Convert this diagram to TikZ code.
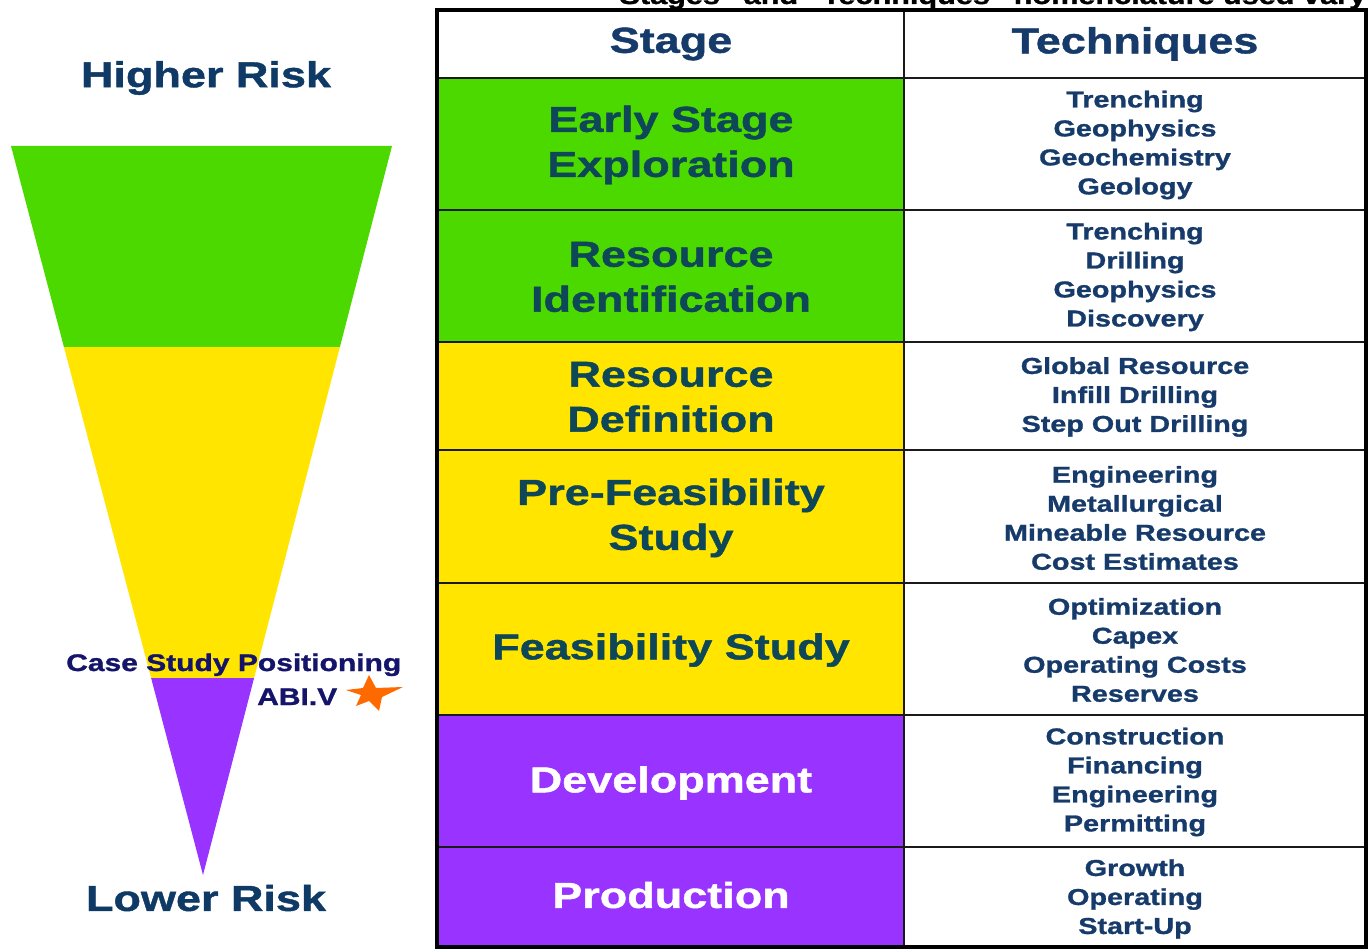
\documentclass[tikz,border=0pt]{standalone}
\usepackage{fontspec}
\newfontfamily\widefont{Liberation Sans}[FakeStretch=1.25, BoldFeatures={FakeBold=1.2}]
\usetikzlibrary{shapes.geometric}

\definecolor{stgreen}{HTML}{4CD900}
\definecolor{styellow}{HTML}{FFE500}
\definecolor{stpurple}{HTML}{9933FF}
\definecolor{stagetxt}{HTML}{0E4757}
\definecolor{techtxt}{HTML}{163B6B}
\definecolor{risktxt}{HTML}{103A66}
\definecolor{casetxt}{HTML}{14146B}
\definecolor{starorange}{HTML}{FF6A00}
\definecolor{gridline}{HTML}{1A1A1A}

\begin{document}
\begin{tikzpicture}[x=1pt,y=-1pt,
  bigfont/.style={font=\widefont\bfseries\fontsize{36}{45}\selectfont},
  stagelbl/.style={bigfont, align=center, text=stagetxt, inner sep=0pt},
  headlbl/.style={bigfont, align=center, text=techtxt, inner sep=0pt},
  techlbl/.style={font=\widefont\bfseries\fontsize{23}{29}\selectfont, align=center, text=techtxt, inner sep=0pt},
  risklbl/.style={bigfont, text=risktxt, inner sep=0pt},
  caselbl/.style={font=\widefont\bfseries\fontsize{24}{28}\selectfont, text=casetxt, inner sep=0pt, anchor=base west},
  rowline/.style={gridline, line width=2.5pt},
]
\useasboundingbox[fill=white] (0,0) rectangle (1368,949);

% ---- risk funnel ----
\coordinate (ftl) at (11,146);
\coordinate (ftr) at (392,146);
\coordinate (ftip) at (203,875);
\begin{scope}
  \clip (ftl) -- (ftr) -- (ftip) -- cycle;
  \fill[stgreen]  (0,140) rectangle (400,347);
  \fill[styellow] (0,347) rectangle (400,678);
  \fill[stpurple] (0,678) rectangle (400,880);
\end{scope}

\node[risklbl] (higher) at (206,78) {Higher Risk};
\node[risklbl] (lower)  at (206,898) {Lower Risk};

\node[caselbl] (casepos) at (66,671) {Case Study Positioning};
\node[caselbl] (abiv)    at (257,705) {ABI.V};

% orange star marker
\fill[starorange] (369,675) -- (376,688) -- (403,687) -- (382,697) -- (379,711)
  -- (369,701) -- (356,706) -- (361,695) -- (346,690) -- (363,688) -- cycle;

% ---- stage table ----
\fill[stgreen]  (437,78)  rectangle (904,342);
\fill[styellow] (437,342) rectangle (904,715);
\fill[stpurple] (437,715) rectangle (904,947);

\foreach \yy in {78,210,342,450,583,715,847}
  \draw[rowline] (437,\yy) -- (1366,\yy);
\draw[rowline] (904,10) -- (904,947);
\draw[black, line width=4pt] (437,10) rectangle (1366,947);

% caption line running past the top edge of the page
\node[font=\widefont\bfseries\fontsize{24.5}{28}\selectfont, anchor=base west, inner sep=0pt] (caption) at (604,4)
  {“Stages” and “Techniques” nomenclature used vary};

\node[headlbl] (hstage) at (671,44) {Stage};
\node[headlbl] (htech)  at (1135,44) {Techniques};

\node[stagelbl] (s1) at (671,145) {Early Stage\\Exploration};
\node[stagelbl] (s2) at (671,277) {Resource\\Identification};
\node[stagelbl] (s3) at (671,397) {Resource\\Definition};
\node[stagelbl] (s4) at (671,518) {Pre-Feasibility\\Study};
\node[stagelbl] (s5) at (671,650) {Feasibility Study};
\node[stagelbl, text=white] (s6) at (671,783) {Development};
\node[stagelbl, text=white] (s7) at (671,895) {Production};

\node[techlbl] (t1) at (1135,145) {Trenching\\Geophysics\\Geochemistry\\Geology};
\node[techlbl] (t2) at (1135,277) {Trenching\\Drilling\\Geophysics\\Discovery};
\node[techlbl] (t3) at (1135,397) {Global Resource\\Infill Drilling\\Step Out Drilling};
\node[techlbl] (t4) at (1135,518) {Engineering\\Metallurgical\\Mineable Resource\\Cost Estimates};
\node[techlbl] (t5) at (1135,650) {Optimization\\Capex\\Operating Costs\\Reserves};
\node[techlbl] (t6) at (1135,782) {Construction\\Financing\\Engineering\\Permitting};
\node[techlbl] (t7) at (1135,899) {Growth\\Operating\\Start-Up};
\end{tikzpicture}
\end{document}
